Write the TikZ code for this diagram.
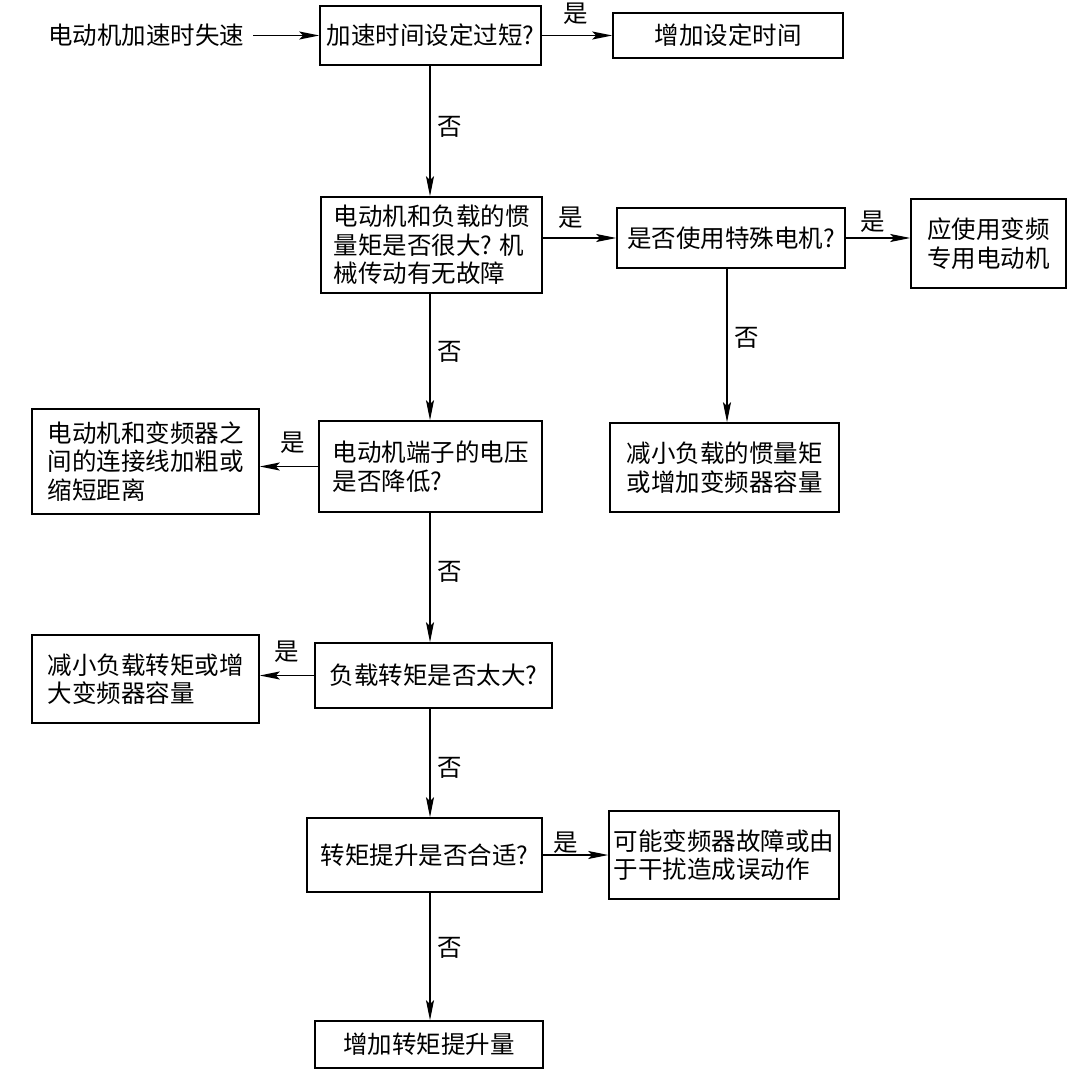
\documentclass[tikz,border=0pt]{standalone}
\usepackage{fontspec}
\newfontfamily\cjk{Noto Sans CJK SC}
\usetikzlibrary{arrows.meta,calc}
\begin{document}
\begin{tikzpicture}[x=1pt,y=-1pt,
  txt/.style={font=\cjk\fontsize{24.5}{28.5}\selectfont},
  box/.style={txt, draw, line width=1.5pt, inner sep=0pt, align=left},
  lbl/.style={txt, inner sep=0pt},
  arr/.style={line width=1.5pt, -{Stealth[length=20pt,width=8pt,inset=4pt]}}]
\useasboundingbox (0,0) rectangle (1084,1075);
\coordinate (sp) at (430,0);
\coordinate (sx) at (727,0);
% nodes
\node[lbl] (start) at (146,35.5) {电动机加速时失速};
\node[box, minimum width=221pt, minimum height=59pt] (b1) at (430.5,35.5) {加速时间设定过短?};
\node[box, minimum width=230pt, minimum height=45pt] (r1) at (728,35.5) {增加设定时间};
\node[box, minimum width=221pt, minimum height=96pt] (b2) at (431.5,245) {电动机和负载的惯\\量矩是否很大? 机\\械传动有无故障};
\node[box, minimum width=228pt, minimum height=60pt] (s) at (731,238) {是否使用特殊电机?};
\node[box, minimum width=155pt, minimum height=89pt] (a) at (988.5,243.5) {应使用变频\\专用电动机};
\node[box, minimum width=229pt, minimum height=89pt] (d) at (724.5,467.5) {减小负载的惯量矩\\或增加变频器容量};
\node[box, minimum width=223pt, minimum height=91pt] (b3) at (430.5,466.5) {电动机端子的电压\\是否降低?};
\node[box, minimum width=227pt, minimum height=105pt] (l1) at (145.5,461.5) {电动机和变频器之\\间的连接线加粗或\\缩短距离};
\node[box, minimum width=237pt, minimum height=65pt] (b4) at (433.5,675.5) {负载转矩是否太大?};
\node[box, minimum width=227pt, minimum height=88pt] (l2) at (145.5,679) {减小负载转矩或增\\大变频器容量};
\node[box, minimum width=235pt, minimum height=74pt] (b5) at (424.5,855) {转矩提升是否合适?};
\node[box, minimum width=230pt, minimum height=88pt] (r5) at (724,855) {可能变频器故障或由\\于干扰造成误动作};
\node[box, minimum width=228pt, minimum height=47pt] (b6) at (429,1044.5) {增加转矩提升量};
% connectors
\draw[arr, shorten <=9pt] (start.east) -- (b1.west);
\draw[arr] (b1.east) -- (r1.west);
\draw[arr] (b1.south -| sp) -- (b2.north -| sp);
\draw[arr] (b2.south -| sp) -- (b3.north -| sp);
\draw[arr] (b3.south -| sp) -- (b4.north -| sp);
\draw[arr] (b4.south -| sp) -- (b5.north -| sp);
\draw[arr] (b5.south -| sp) -- (b6.north -| sp);
\draw[arr] (s.west -| b2.east) -- (s.west);
\draw[arr] (s.east) -- (s.east -| a.west);
\draw[arr] (s.south -| sx) -- (d.north -| sx);
\draw[arr] (b3.west) -- (b3.west -| l1.east);
\draw[arr] (b4.west) -- (b4.west -| l2.east);
\draw[arr] (b5.east) -- (b5.east -| r5.west);
% labels
\node[lbl] (n1) at (450,127) {否};
\node[lbl] (n2) at (450,352) {否};
\node[lbl] (n3) at (450,572) {否};
\node[lbl] (n4) at (450,768) {否};
\node[lbl] (n5) at (450,948) {否};
\node[lbl] (n6) at (747,338) {否};
\node[lbl] (y1) at (576,14) {是};
\node[lbl] (y2) at (571,218) {是};
\node[lbl] (y3) at (873,222) {是};
\node[lbl] (y4) at (293,443) {是};
\node[lbl] (y5) at (287,652) {是};
\node[lbl] (y6) at (566,843) {是};
\end{tikzpicture}
\end{document}
